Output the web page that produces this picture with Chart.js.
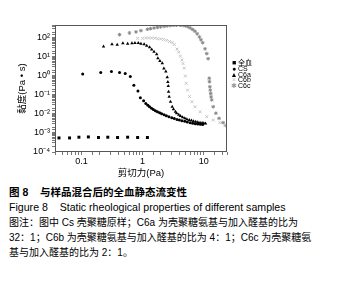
<!DOCTYPE html>
<html>
<head>
<meta charset="utf-8">
<script src="https://cdn.jsdelivr.net/npm/chart.js@4.4.1/dist/chart.umd.min.js"></script>
<style>
  body { margin: 0; background: #fff; font-family: "Liberation Sans", Arial, "Noto Sans CJK SC", sans-serif; }
  #wrap { position: relative; width: 340px; height: 282px; overflow: hidden; }
  #box { position: absolute; left: 0; top: 0; width: 340px; height: 182px; }
  #legend { position: absolute; left: 230px; top: 60px; font-size: 7px; line-height: 5.8px; color: #000; }
  #legend div { white-space: nowrap; }
  #legend span { display: inline-block; width: 8px; text-align: center; }
  #cap { position: absolute; left: 9px; top: 185px; font-size: 10px; line-height: 15px; color: #000; white-space: nowrap;
         font-family: "Liberation Sans", Arial, "Noto Sans CJK SC", sans-serif; }
  #cap .t { font-weight: bold; font-size: 10.5px; }
</style>
</head>
<body>
<div id="wrap">
  <div id="box"><canvas id="rheoChart"></canvas></div>
  <div id="legend">
    <div><span style="color:#000">■</span>全血</div>
    <div><span style="color:#000">●</span>CS</div>
    <div><span style="color:#000">▲</span>C6a</div>
    <div><span style="color:#c4c4c4">×</span>C6b</div>
    <div><span style="color:#999">✱</span>C6c</div>
  </div>
  <div id="cap">
    <div class="t">图 8&nbsp;&nbsp;&nbsp;&nbsp;与样品混合后的全血静态流变性</div>
    <div style="font-size:10.6px">Figure 8&nbsp;&nbsp;&nbsp;&nbsp;Static rheological properties of different samples</div>
    <div>图注：图中 Cs 壳聚糖原样；C6a 为壳聚糖氨基与加入醛基的比为</div>
    <div>32：1；C6b 为壳聚糖氨基与加入醛基的比为 4：1；C6c 为壳聚糖氨</div>
    <div>基与加入醛基的比为 2：1。</div>
  </div>
</div>
<script>
// shear stress (Pa) / viscosity (Pa·s)
const bloodX = [0.043, 0.064, 0.091, 0.13, 0.19, 0.27, 0.39, 0.57, 0.83, 1.2];
const bloodY = [0.00055, 0.00055, 0.0006, 0.00062, 0.00058, 0.0006, 0.00058, 0.0006, 0.00058, 0.00058];

const csX = [0.105, 0.207, 0.31, 0.42, 0.52, 0.63, 0.72, 0.84, 0.92, 1.04, 1.13, 1.22, 1.3, 1.4, 1.5, 1.62, 1.75, 1.9,
  2.05, 2.25, 2.45, 2.7, 3.0, 3.3, 3.65, 4.0, 4.4, 4.9, 5.4, 6.0, 6.6, 7.3, 8.0, 8.8, 9.6];
const csY = [1.27, 1.5, 1.7, 1.5, 1.35, 0.95, 0.32, 0.16, 0.071, 0.05, 0.036, 0.029, 0.024, 0.02, 0.017, 0.0148, 0.013, 0.0115,
  0.0102, 0.009, 0.008, 0.0071, 0.0063, 0.0057, 0.0052, 0.0048, 0.0044, 0.0041, 0.0038, 0.0035, 0.0033, 0.0031, 0.003, 0.0029, 0.0028];

const c6aX = [0.23, 0.316, 0.385, 0.476, 0.57, 0.67, 0.75, 0.85, 0.94, 1.06, 1.17, 1.3, 1.41, 1.54, 1.7, 1.78, 1.92, 2.1,
  2.23, 2.4, 2.53, 2.59, 2.63, 2.66, 2.72, 2.86, 3.05, 3.2, 3.44, 3.6, 3.9, 4.15, 4.5, 4.9, 5.3, 5.8, 6.3, 6.8, 7.4, 8.0, 8.7, 9.4, 10.0, 10.7];
const c6aY = [36, 47, 44, 53, 50, 53, 55, 55, 50, 47, 39, 32, 25, 19, 14, 8.5, 6.1, 4.7,
  2.5, 1.7, 0.85, 0.48, 0.3, 0.15, 0.081, 0.044, 0.024, 0.018, 0.013, 0.011, 0.009, 0.0079, 0.0068, 0.006, 0.0053, 0.0048, 0.0045, 0.0042, 0.0039, 0.0037, 0.0035, 0.0034, 0.0033, 0.0032];

const c6bX = [0.83, 1.0, 1.13, 1.26, 1.41, 1.58, 1.76, 1.97, 2.2, 2.47, 2.75, 3.05, 3.3, 3.67, 3.9, 4.15, 4.4, 4.58, 4.8,
  5.0, 5.17, 5.43, 5.85, 6.4, 7.2, 8.7, 11.2, 14.3, 18.3, 22];
const c6bY = [95, 95, 100, 100, 100, 97, 92, 88, 83, 75, 65, 58, 45, 26, 18, 11, 7, 4.5, 2.6,
  1.0, 0.41, 0.18, 0.082, 0.044, 0.024, 0.013, 0.0072, 0.0048, 0.0035, 0.0026];

const c6cX = [0.42, 0.61, 0.78, 0.94, 1.2, 1.35, 1.54, 1.75, 1.97, 2.25, 2.53, 2.85, 3.23, 3.6, 4.15, 4.6, 5.0, 5.5, 6.0,
  6.6, 7.2, 7.8, 8.5, 9.0, 9.6, 10.5, 11.2, 11.8, 12.3, 12.4, 12.6, 12.8, 13.0, 13.2, 13.5, 14.3, 15.8, 17.8, 20.7, 23];
const c6cY = [149, 183, 208, 242, 287, 310, 335, 360, 380, 405, 430, 450, 467, 470, 467, 455, 430, 390, 335,
  280, 224, 165, 113, 80, 56, 27, 15, 8.1, 0.76, 0.5, 0.27, 0.18, 0.12, 0.08, 0.055, 0.024, 0.011, 0.0059, 0.0035, 0.0025];

const supers = { '-': '⁻', '0': '⁰', '1': '¹', '2': '²', '3': '³', '4': '⁴' };

function pts(xs, ys) {
  return xs.map((x, i) => ({ x: x, y: ys[i] }));
}

function isDecade(v) {
  const l = Math.log10(v);
  return Math.abs(l - Math.round(l)) < 1e-6;
}

const frame = {
  id: 'frame',
  afterDraw(chart) {
    const a = chart.chartArea;
    const ctx = chart.ctx;
    ctx.save();
    ctx.strokeStyle = '#555';
    ctx.lineWidth = 1;
    ctx.strokeRect(a.left + 0.5, a.top + 0.5, a.right - a.left - 1, a.bottom - a.top - 1);
    ctx.restore();
  }
};

const font = { family: '"Liberation Sans", Arial, "Noto Sans CJK SC", sans-serif', size: 9 };

new Chart(document.getElementById('rheoChart'), {
  type: 'scatter',
  data: {
    datasets: [
      { label: '全血', data: pts(bloodX, bloodY), pointStyle: 'rect', pointRadius: 2.1, backgroundColor: '#000', borderColor: '#000', borderWidth: 0 },
      { label: 'CS', data: pts(csX, csY), pointStyle: 'circle', pointRadius: 1.5, backgroundColor: '#000', borderColor: '#000', borderWidth: 0 },
      { label: 'C6a', data: pts(c6aX, c6aY), pointStyle: 'triangle', pointRadius: 2, backgroundColor: '#000', borderColor: '#000', borderWidth: 0 },
      { label: 'C6b', data: pts(c6bX, c6bY), pointStyle: 'crossRot', pointRadius: 2, backgroundColor: '#c4c4c4', borderColor: '#c4c4c4', borderWidth: 1 },
      { label: 'C6c', data: pts(c6cX, c6cY), pointStyle: 'star', pointRadius: 1.8, backgroundColor: '#8a8a8a', borderColor: '#8a8a8a', borderWidth: 1 }
    ]
  },
  options: {
    responsive: true,
    maintainAspectRatio: false,
    animation: false,
    layout: { padding: { top: 25, right: 113, left: 0, bottom: 0 } },
    plugins: { legend: { display: false }, tooltip: { enabled: false } },
    scales: {
      x: {
        type: 'logarithmic',
        min: 0.037,
        max: 24,
        afterFit(scale) { scale.height = 30; },
        grid: { drawOnChartArea: false, tickLength: 3, color: '#555', tickColor: '#777' },
        border: { display: false },
        ticks: {
          autoSkip: false, maxRotation: 0, padding: 1, color: '#000', font: font,
          callback: (v) => (isDecade(v) ? String(Number(v.toPrecision(1))) : '')
        },
        title: { display: true, text: '剪切力(Pa)', color: '#000', font: { family: font.family, size: 9.5 }, padding: { top: 0, bottom: 3 } }
      },
      y: {
        type: 'logarithmic',
        min: 0.0001,
        max: 480,
        afterFit(scale) { scale.width = 55; },
        grid: { drawOnChartArea: false, tickLength: 3, color: '#555', tickColor: '#777' },
        border: { display: false },
        ticks: {
          autoSkip: false, padding: 2, color: '#000', font: font,
          callback: (v) => {
            if (!isDecade(v)) return '';
            const e = String(Math.round(Math.log10(v)));
            return '10' + e.split('').map((c) => supers[c]).join('');
          }
        },
        title: { display: true, text: '黏度(Pa • s)', color: '#000', font: { family: font.family, size: 9.5 }, padding: { top: 17, bottom: 0 } }
      }
    }
  },
  plugins: [frame]
});
</script>
</body>
</html>
